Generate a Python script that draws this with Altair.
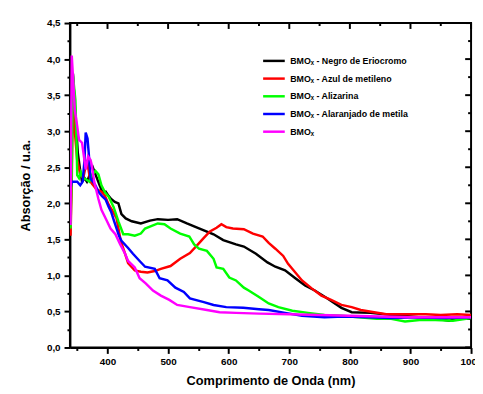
import altair as alt
import pandas as pd

series_names = [
    "BMOₓ - Negro de Eriocromo",
    "BMOₓ - Azul de metileno",
    "BMOₓ - Alizarina",
    "BMOₓ - Alaranjado de metila",
    "BMOₓ",
]
series_colors = ["#000000", "#ff0000", "#00ff00", "#0000ff", "#ff00ff"]

wl_black = [339, 341, 343, 345, 348, 351, 355, 358, 362, 366, 370, 374, 377, 382, 387, 392, 397, 402, 406, 412, 418, 423, 430, 440, 455, 470, 483, 500, 515, 531, 552, 575, 591, 612, 625, 645, 664, 677, 693, 710, 726, 742, 763, 786, 803, 834, 870, 900, 941, 964, 980, 1000]
abs_black = [1.75, 2.8, 3.8, 3.5, 3.1, 2.7, 2.45, 2.3, 2.35, 2.3, 2.38, 2.3, 2.47, 2.36, 2.25, 2.15, 2.16, 2.1, 2.06, 2.02, 2.0, 1.85, 1.79, 1.75, 1.72, 1.76, 1.78, 1.77, 1.78, 1.72, 1.65, 1.57, 1.49, 1.43, 1.40, 1.30, 1.18, 1.12, 1.07, 0.96, 0.86, 0.79, 0.68, 0.55, 0.49, 0.48, 0.45, 0.43, 0.40, 0.37, 0.40, 0.40]

wl_red = [339, 341, 343, 346, 350, 355, 360, 366, 372, 381, 390, 396, 402, 408, 415, 422, 429, 434, 445, 455, 466, 478, 488, 504, 520, 536, 547, 559, 569, 580, 588, 596, 607, 625, 640, 656, 666, 677, 690, 698, 710, 721, 737, 753, 769, 786, 803, 818, 840, 860, 890, 925, 950, 977, 1000]
abs_red = [1.55, 2.3, 3.55, 3.0, 2.6, 2.4, 2.35, 2.6, 2.3, 2.2, 2.16, 2.1, 1.98, 1.9, 1.79, 1.47, 1.30, 1.17, 1.07, 1.05, 1.04, 1.06, 1.09, 1.13, 1.23, 1.31, 1.41, 1.52, 1.61, 1.66, 1.71, 1.67, 1.65, 1.64, 1.58, 1.54, 1.45, 1.37, 1.27, 1.16, 1.04, 0.93, 0.82, 0.72, 0.66, 0.59, 0.56, 0.52, 0.49, 0.46, 0.46, 0.46, 0.45, 0.46, 0.45]

wl_green = [339, 341, 343, 345, 347, 349, 350, 353, 356, 360, 365, 370, 374, 380, 385, 390, 396, 402, 410, 418, 426, 434, 445, 455, 462, 471, 483, 494, 504, 520, 535, 543, 551, 564, 575, 580, 591, 601, 612, 625, 633, 650, 666, 682, 705, 731, 758, 786, 815, 844, 866, 891, 915, 941, 970, 1000]
abs_green = [1.65, 2.5, 3.77, 3.6, 3.43, 2.84, 2.39, 2.35, 2.43, 2.35, 2.33, 2.3, 2.39, 2.45, 2.4, 2.25, 2.15, 2.09, 1.95, 1.75, 1.57, 1.57, 1.55, 1.58, 1.65, 1.68, 1.72, 1.71, 1.65, 1.58, 1.54, 1.43, 1.37, 1.34, 1.23, 1.11, 1.09, 0.97, 0.93, 0.83, 0.79, 0.70, 0.61, 0.56, 0.51, 0.48, 0.45, 0.44, 0.42, 0.40, 0.40, 0.36, 0.38, 0.38, 0.37, 0.41]

wl_blue = [339, 341, 345, 350, 355, 359, 362, 364, 367, 369, 372, 376, 380, 385, 391, 397, 402, 406, 411, 415, 419, 423, 434, 442, 453, 462, 478, 486, 499, 512, 526, 536, 559, 575, 596, 624, 650, 666, 693, 721, 758, 790, 830, 870, 910, 950, 1000]
abs_blue = [2.2, 2.3, 2.3, 2.3, 2.25, 2.3, 2.6, 2.98, 2.9, 2.7, 2.34, 2.3, 2.25, 2.16, 2.1, 2.05, 1.95, 1.88, 1.75, 1.65, 1.55, 1.48, 1.38, 1.30, 1.20, 1.12, 1.09, 0.96, 0.93, 0.83, 0.77, 0.68, 0.63, 0.59, 0.56, 0.55, 0.53, 0.52, 0.48, 0.44, 0.42, 0.43, 0.42, 0.41, 0.42, 0.41, 0.42]

wl_mag = [339, 340, 341, 343, 346, 350, 353, 358, 364, 368, 372, 374, 378, 381, 385, 390, 397, 405, 413, 421, 429, 434, 439, 445, 453, 463, 475, 488, 502, 515, 536, 564, 585, 612, 650, 700, 750, 800, 850, 900, 950, 1000]
abs_mag = [1.7, 3.0, 4.05, 3.76, 3.3, 3.07, 2.88, 2.84, 2.47, 2.65, 2.6, 2.53, 2.3, 2.2, 2.06, 1.91, 1.79, 1.65, 1.57, 1.43, 1.30, 1.20, 1.16, 1.11, 0.96, 0.89, 0.79, 0.72, 0.66, 0.59, 0.56, 0.52, 0.49, 0.48, 0.47, 0.46, 0.45, 0.44, 0.43, 0.42, 0.42, 0.42]

x_ticks = list(range(350, 1001, 50))
y_ticks = [i * 0.25 for i in range(0, 19)]

rows = []
for k, (wl, ab) in enumerate([(wl_black, abs_black), (wl_red, abs_red), (wl_green, abs_green),
                              (wl_blue, abs_blue), (wl_mag, abs_mag)]):
    for w, a in zip(wl, ab):
        rows.append({"wl": w, "abs": a, "serie": series_names[k], "order": k})
df = pd.DataFrame(rows)

xt = pd.DataFrame({"wl": x_ticks, "major": [v % 100 == 0 for v in x_ticks]})
yt = pd.DataFrame({"abs": y_ticks, "major": [round(v * 4) % 2 == 0 for v in y_ticks]})

FONT = "Liberation Sans"
W, H = 408, 330

x_scale = alt.Scale(domain=[338, 1000], nice=False, zero=False)
y_scale = alt.Scale(domain=[0, 4.5], nice=False)

x_minor = "datum.value % 100 != 0"
y_minor = "round(datum.value * 4) % 2 == 1"

x_axis = alt.Axis(orient="bottom", values=x_ticks, title="Comprimento de Onda (nm)",
                  labelExpr=f"{x_minor} ? '' : datum.label", labelOverlap=False,
                  labelFlush=False, format="d",
                  tickSize={"condition": {"test": x_minor, "value": 3}, "value": 6},
                  labelPadding=3, titlePadding=9)
y_axis = alt.Axis(orient="left", values=y_ticks, title="Absorção / u.a.",
                  labelExpr=f"{y_minor} ? '' : replace(format(datum.value, '.1f'), '.', ',')",
                  labelOverlap=False, labelFlush=False,
                  tickSize={"condition": {"test": y_minor, "value": 3}, "value": 6},
                  labelPadding=4, titlePadding=14)

lines = alt.Chart(df).mark_line(strokeWidth=2.5, clip=True).encode(
    x=alt.X("wl:Q", scale=x_scale, axis=x_axis),
    y=alt.Y("abs:Q", scale=y_scale, axis=y_axis),
    color=alt.Color("serie:N", sort=series_names,
                    scale=alt.Scale(domain=series_names, range=series_colors),
                    legend=alt.Legend(title=None, orient="none", legendX=195, legendY=26,
                                      symbolType="stroke", symbolSize=484, symbolStrokeWidth=2.5,
                                      labelFont=FONT, labelFontSize=9, labelFontWeight="bold",
                                      labelColor="black", rowPadding=0, labelOffset=4)),
    order=alt.Order("order:Q"),
    detail="serie:N",
)

top_major = alt.Chart(xt).transform_filter("datum.major").mark_rule(color="black", strokeWidth=2).encode(
    x=alt.X("wl:Q", scale=x_scale, axis=x_axis), y=alt.value(0), y2=alt.value(6))
top_minor = alt.Chart(xt).transform_filter("!datum.major").mark_rule(color="black", strokeWidth=2).encode(
    x=alt.X("wl:Q", scale=x_scale, axis=x_axis), y=alt.value(0), y2=alt.value(3))
right_major = alt.Chart(yt).transform_filter("datum.major").mark_rule(color="black", strokeWidth=2).encode(
    y=alt.Y("abs:Q", scale=y_scale, axis=y_axis), x=alt.value(W), x2=alt.value(W - 6))
right_minor = alt.Chart(yt).transform_filter("!datum.major").mark_rule(color="black", strokeWidth=2).encode(
    y=alt.Y("abs:Q", scale=y_scale, axis=y_axis), x=alt.value(W), x2=alt.value(W - 3))

chart = alt.layer(lines, top_major, top_minor, right_major, right_minor).properties(
    width=W, height=H,
    autosize=alt.AutoSizeParams(type="none"),
    padding={"left": 63, "top": 12, "right": 4, "bottom": 44},
).configure_view(stroke="black", strokeWidth=2).configure_axis(
    domainColor="black", domainWidth=2, tickColor="black", tickWidth=2,
    labelFont=FONT, labelFontSize=10, labelFontWeight="bold", labelColor="black",
    titleFont=FONT, titleFontSize=13, titleFontWeight="bold", titleColor="black",
    grid=False,
)

chart.save("out.html", embed_options={"renderer": "svg", "actions": False})
